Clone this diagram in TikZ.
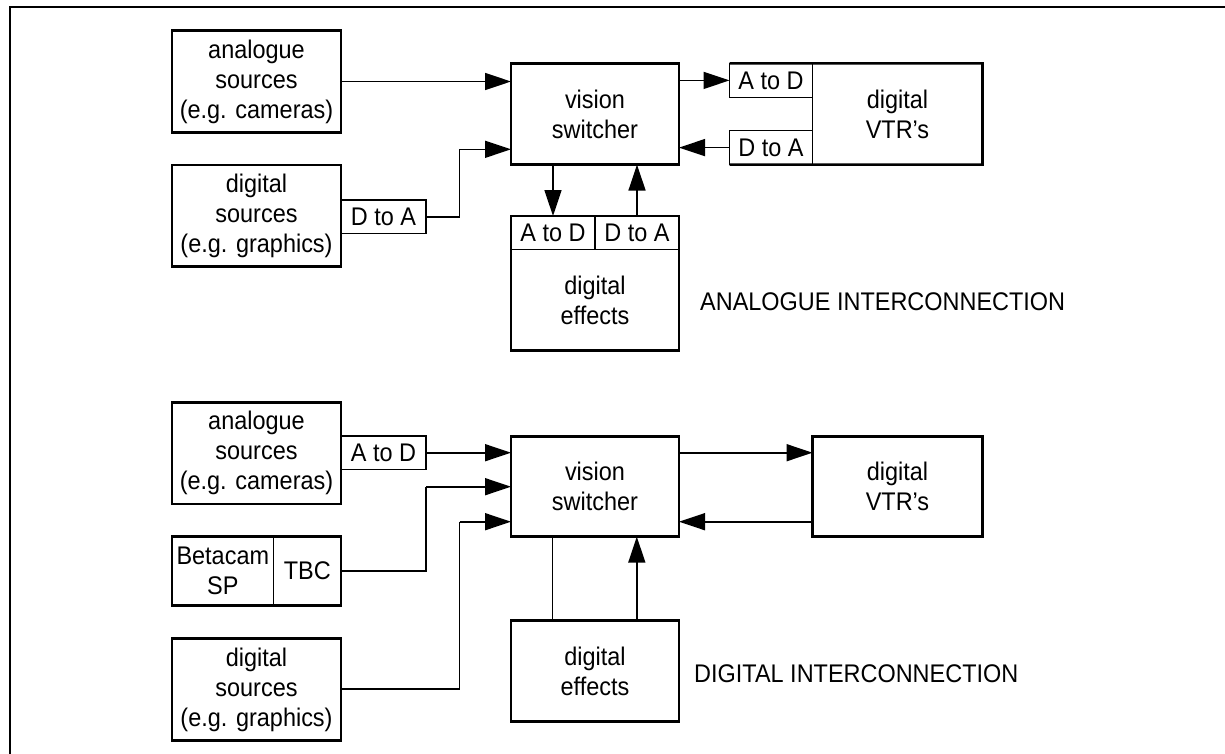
\documentclass[tikz,border=0pt]{standalone}
\usepackage{fontspec}
\setmainfont{Liberation Sans}[FakeStretch=0.92]
\usetikzlibrary{arrows.meta}
\tikzset{
  txt/.style={font=\fontsize{25.5}{30}\selectfont},
  box/.style={draw, line width=2.6pt, inner sep=0pt, outer sep=0pt, align=center, txt},
  conv/.style={draw, line width=1.5pt, inner sep=0pt, outer sep=0pt, align=center, txt},
  plain/.style={inner sep=0pt, outer sep=0pt, align=center, txt},
  outline/.style={line width=2.6pt, line join=miter},
  wire/.style={line width=1.6pt},
  arr/.style={wire, -{Triangle[length=26pt,width=17pt]}},
  lbl/.style={inner sep=0pt, anchor=west, txt}
}
\begin{document}
\begin{tikzpicture}[x=1pt,y=-1pt]
\useasboundingbox (0,0) rectangle (1225,753);
\clip (0,0) rectangle (1225,753);
% frame
\draw[line width=2pt] (1240,7) -- (10,7) -- (10,770);

% ---------------- analogue interconnection ----------------
\node[box, minimum width=169pt, minimum height=101.5pt] (as1) at (256.5,81.5) {analogue\\sources\\(e.g. cameras)};
\node[box, minimum width=169pt, minimum height=101.5pt] (ds1) at (256.5,215.8) {digital\\sources\\(e.g. graphics)};
\node[conv, minimum width=85pt, minimum height=33.5pt] (da1) at (383.5,216.7) {D to A};
\node[box, minimum width=168pt, minimum height=101.2pt] (vs1) at (595,114) {vision\\switcher};

% VTR with converters
\node[plain, minimum width=170pt, minimum height=101.2pt] (vtr1) at (897.5,114) {digital\\VTR’s};
\node[conv, minimum width=83pt, minimum height=34pt] (ad2) at (771,80.4) {A to D};
\node[conv, minimum width=83pt, minimum height=34pt] (da2) at (771,147.6) {D to A};
\draw[line width=1.5pt] (vtr1.north west) -- (vtr1.south west);
\draw[outline] (ad2.north west) -- (vtr1.north east) -- (vtr1.south east) -- (da2.south west);

% effects with converters
\node[plain, minimum width=168pt, minimum height=101.4pt] (fx1) at (595,300) {digital\\effects};
\node[conv, minimum width=84pt, minimum height=33.3pt] (ad3) at (553,232.65) {A to D};
\node[conv, minimum width=84pt, minimum height=33.3pt] (da3) at (637,232.65) {D to A};
\draw[outline] (ad3.north west) -- (da3.north east) -- (fx1.south east) -- (fx1.south west) -- cycle;

\coordinate (j1) at (459.5,216.7);
\draw[arr] (as1.east) -- (as1.east -| vs1.west);
\draw[wire] (da1.east) -- (j1) -- (j1 |- 0,149.3);
\draw[arr] (j1 |- 0,149.3) -- (vs1.west |- 0,149.3);
\draw[arr] (vs1.east |- ad2.west) -- (ad2.west);
\draw[arr] (da2.west) -- (da2.west -| vs1.east);
\draw[arr] (vs1.south -| ad3.north) -- (ad3.north);
\draw[arr] (da3.north) -- (da3.north |- vs1.south);

\node[lbl] (t1) at (700,301.7) {ANALOGUE INTERCONNECTION};

% ---------------- digital interconnection ----------------
\node[box, minimum width=169pt, minimum height=101.3pt] (as2) at (256.5,453.3) {analogue\\sources\\(e.g. cameras)};
\node[conv, minimum width=85pt, minimum height=33.3pt] (ad4) at (383.5,452.7) {A to D};
\node[box, minimum width=168pt, minimum height=100.2pt] (vs2) at (595,486.6) {vision\\switcher};
\node[box, minimum width=170pt, minimum height=100.2pt] (vtr2) at (897.5,486.6) {digital\\VTR’s};

\node[plain, minimum width=101.6pt, minimum height=68.6pt] (bc) at (222.8,571) {Betacam\\SP};
\node[plain, minimum width=67.4pt, minimum height=68.6pt] (tbc) at (307.3,571) {TBC};
\draw[line width=1.5pt] (bc.north east) -- (bc.south east);
\draw[outline] (bc.north west) rectangle (tbc.south east);

\node[box, minimum width=169pt, minimum height=102.4pt] (ds2) at (256.5,689.5) {digital\\sources\\(e.g. graphics)};
\node[box, minimum width=168pt, minimum height=101pt] (fx2) at (595,671.2) {digital\\effects};

\coordinate (j2) at (426,571);
\coordinate (j3) at (459.5,689);
\draw[arr] (ad4.east) -- (ad4.east -| vs2.west);
\draw[wire] (tbc.east) -- (j2) -- (j2 |- 0,486.7);
\draw[arr] (j2 |- 0,486.7) -- (vs2.west |- 0,486.7);
\draw[wire] (ds2.east |- j3) -- (j3) -- (j3 |- 0,521.7);
\draw[arr] (j3 |- 0,521.7) -- (vs2.west |- 0,521.7);
\draw[arr] (vs2.east |- 0,452.7) -- (vtr2.west |- 0,452.7);
\draw[arr] (vtr2.west |- 0,521.7) -- (vs2.east |- 0,521.7);
\draw[wire] (vs2.south -| 552.4,0) -- (fx2.north -| 552.4,0);
\draw[arr] (fx2.north -| 636.8,0) -- (vs2.south -| 636.8,0);

\node[lbl] (t2) at (694,673.3) {DIGITAL INTERCONNECTION};
\end{tikzpicture}
\end{document}
